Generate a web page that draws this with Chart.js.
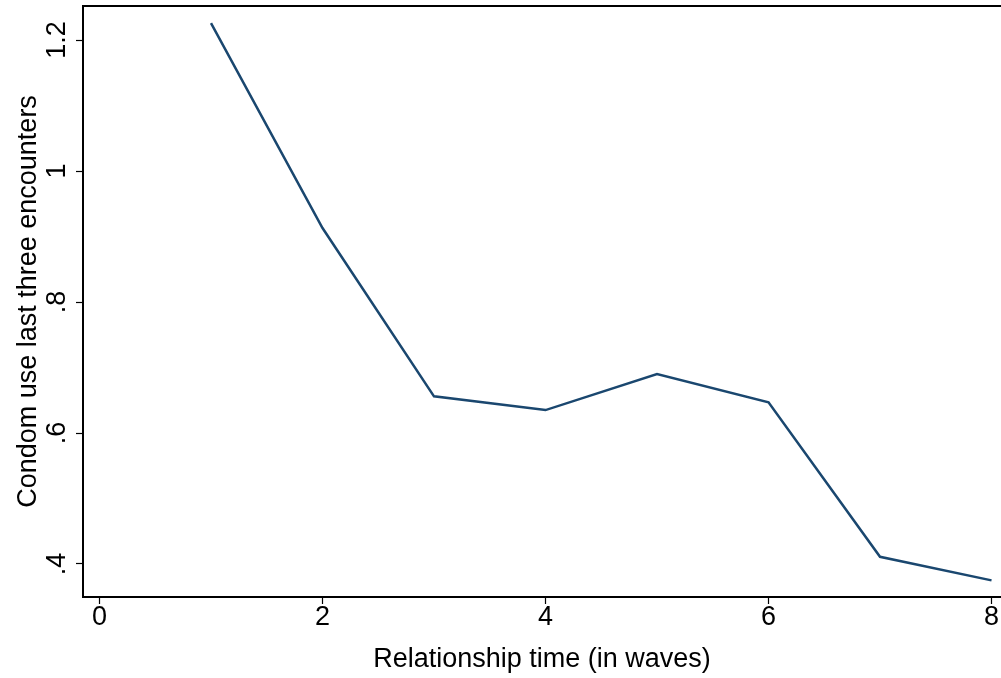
<!DOCTYPE html>
<html>
<head>
<meta charset="utf-8">
<script src="https://cdn.jsdelivr.net/npm/chart.js@4.4.1/dist/chart.umd.min.js"></script>
<style>
  html, body { margin: 0; padding: 0; background: #fff; }
  canvas { display: block; }
</style>
</head>
<body>
<canvas id="chart" width="1001" height="678"></canvas>
<script>
// values
const waves = [1, 2, 3, 4, 5, 6, 7, 8];
const condomUse = [1.226, 0.913, 0.656, 0.635, 0.690, 0.647, 0.411, 0.375];
const xTicks = [0, 2, 4, 6, 8];
const yTicks = [0.4, 0.6, 0.8, 1, 1.2];
const yTickLabels = ['.4', '.6', '.8', '1', '1.2'];
const xTitle = 'Relationship time (in waves)';
const yTitle = 'Condom use last three encounters';

const NAVY = '#1a476f';
const FONT = "'Liberation Sans', Arial, Helvetica, sans-serif";

const X_RANGE = [-0.148, 8.085];
const Y_RANGE = [0.3496, 1.252];

// keep the plot box fixed; Stata does not shrink it for overhanging labels
function noEdgePadding(s) {
  s.paddingTop = 0; s.paddingBottom = 0; s.paddingLeft = 0; s.paddingRight = 0;
}

new Chart(document.getElementById('chart'), {
  type: 'line',
  data: {
    datasets: [{
      data: waves.map((w, i) => ({ x: w, y: condomUse[i] })),
      borderColor: NAVY,
      borderWidth: 2.5,
      pointRadius: 0,
      fill: false,
      tension: 0
    }]
  },
  options: {
    responsive: false,
    animation: false,
    layout: { padding: { top: 6, right: 0, left: 0, bottom: 0 } },
    plugins: { legend: { display: false }, tooltip: { enabled: false } },
    scales: {
      x: {
        type: 'linear',
        position: 'bottom',
        min: X_RANGE[0], max: X_RANGE[1],
        afterBuildTicks: s => { s.ticks = xTicks.map(v => ({ value: v })); },
        afterFit: s => { s.height = 81; noEdgePadding(s); },
        ticks: { color: '#000', font: { family: FONT, size: 27 }, padding: -3, maxRotation: 0 },
        grid: { display: true, drawOnChartArea: false, drawTicks: true, tickLength: 7, tickColor: '#000', tickWidth: 1.2 },
        border: { display: true, color: '#000', width: 2 },
        title: { display: true, text: xTitle, color: '#000', font: { family: FONT, size: 27 }, padding: { top: 0, bottom: 2 } }
      },
      x2: {
        type: 'linear',
        position: 'top',
        min: X_RANGE[0], max: X_RANGE[1],
        afterFit: s => { s.height = 0; noEdgePadding(s); },
        ticks: { display: false },
        grid: { display: false },
        border: { display: true, color: '#000', width: 2 }
      },
      y: {
        type: 'linear',
        position: 'left',
        min: Y_RANGE[0], max: Y_RANGE[1],
        afterBuildTicks: s => { s.ticks = yTicks.map(v => ({ value: v })); },
        afterFit: s => { s.width = 83; noEdgePadding(s); },
        ticks: {
          color: '#000', font: { family: FONT, size: 27 },
          minRotation: 90, maxRotation: 90, crossAlign: 'center', padding: 0,
          callback: v => yTickLabels[yTicks.indexOf(v)]
        },
        grid: { display: true, drawOnChartArea: false, drawTicks: true, tickLength: 7, tickColor: '#000', tickWidth: 1.2 },
        border: { display: true, color: '#000', width: 2 },
        title: { display: true, text: yTitle, color: '#000', font: { family: FONT, size: 27 }, padding: { top: 12, bottom: 0 } }
      }
    }
  }
});
</script>
</body>
</html>
